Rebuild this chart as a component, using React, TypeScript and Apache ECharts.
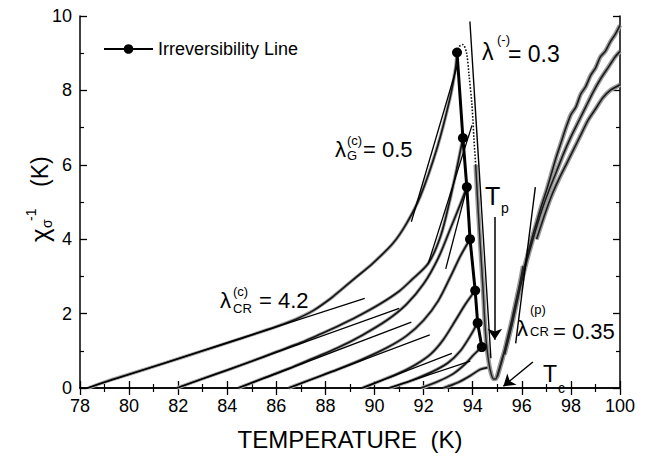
import React, { useEffect, useRef } from "react";
import * as echarts from "echarts";

const FONT = '"Liberation Sans", Arial, Helvetica, sans-serif';

// x ticks / y ticks
const xTicks = [78, 80, 82, 84, 86, 88, 90, 92, 94, 96, 98, 100];
const yTicks = [0, 2, 4, 6, 8, 10];

// ZFC-like branches (T [K], chi^-1 [K])
const curve1 = [[78.33,0],[79,0.16],[80,0.37],[81.5,0.68],[83,1.0],[84.5,1.32],[86,1.65],[86.8,1.85],[87.5,2.08],[88.2,2.4],[88.6,2.62],[89.2,2.95],[89.94,3.36],[90.75,3.89],[91.3,4.42],[91.85,5.13],[92.55,6.46],[93.07,7.78],[93.3,8.6],[93.36,9.02]];
const curve2 = [[81.95,0],[83,0.25],[84,0.48],[85,0.72],[86,0.97],[87,1.22],[87.8,1.45],[88.5,1.66],[89.3,1.92],[90.2,2.25],[91.0,2.6],[91.5,2.9],[92.2,3.36],[92.7,4.1],[93.07,5.05],[93.35,5.9],[93.6,6.72]];
const curve3 = [[84.45,0],[85.5,0.27],[86.5,0.52],[87.5,0.8],[88.5,1.08],[89.5,1.42],[90.5,1.82],[91.3,2.25],[92.0,2.8],[92.6,3.5],[93.1,4.3],[93.5,4.95],[93.76,5.4]];
const curve4 = [[86.5,0],[87.5,0.25],[88.5,0.5],[89.5,0.77],[90.5,1.08],[91.3,1.4],[92.0,1.82],[92.6,2.35],[93.1,3.0],[93.5,3.55],[93.89,4.0]];
const curve5 = [[89.5,0],[90.3,0.21],[91.0,0.4],[91.7,0.64],[92.3,0.92],[92.8,1.3],[93.3,1.82],[93.7,2.25],[94.1,2.62]];
const curve6 = [[90.6,0],[91.5,0.2],[92.3,0.42],[93.0,0.68],[93.5,1.0],[93.9,1.4],[94.2,1.75]];
const curve7 = [[91.9,0],[92.6,0.18],[93.2,0.38],[93.7,0.65],[94.05,0.9],[94.37,1.1]];
const curve8 = [[92.8,0],[93.4,0.15],[93.9,0.33],[94.3,0.5],[94.6,0.55]];

// common descending branch: dotted top part and thick lower part through the minimum
const descendingTop = [[93.36,9.02],[93.45,9.18],[93.6,9.23],[93.75,9.0],[93.85,8.4],[93.97,7.6],[94.05,6.7],[94.12,6.0]];
const descendingLow = [[94.12,6.0],[94.22,4.8],[94.33,3.6],[94.42,2.67],[94.48,1.9],[94.55,1.25],[94.65,0.7],[94.75,0.38],[94.85,0.24],[94.95,0.25],[95.05,0.45],[95.2,0.8],[95.4,1.2],[95.6,1.75],[95.8,2.4],[96.05,3.28]];

// paramagnetic region
const para1 = [[95.0,0.3],[95.2,0.75],[95.4,1.3],[95.6,1.85],[95.8,2.45],[96.0,3.0],[96.2,3.5],[96.4,4.0],[96.6,4.45],[96.8,4.9],[97.0,5.3],[97.2,5.75],[97.4,6.2],[97.6,6.6],[97.8,7.0],[98.0,7.35],[98.2,7.55],[98.4,7.9],[98.6,8.1],[98.8,8.4],[99.0,8.6],[99.2,8.9],[99.4,9.05],[99.6,9.3],[99.8,9.5],[100,9.75]];
const para2 = [[95.3,0.9],[95.6,1.7],[95.9,2.6],[96.2,3.4],[96.5,4.1],[96.8,4.75],[97.1,5.3],[97.4,5.8],[97.7,6.3],[98.0,6.75],[98.3,7.15],[98.6,7.55],[98.9,7.95],[99.2,8.3],[99.5,8.6],[99.8,8.9],[100,9.05]];
const para3 = [[96.6,4.0],[96.9,4.6],[97.2,5.15],[97.5,5.6],[97.8,6.0],[98.1,6.4],[98.4,6.8],[98.7,7.2],[99.0,7.5],[99.3,7.8],[99.6,8.0],[100,8.15]];

// straight fits
const fitCR1 = [[78.3,0],[89.6,2.41]];
const fitCR2 = [[81.95,0],[91.0,2.14]];
const fitCR3 = [[84.45,0],[91.5,1.77]];
const fitCR4 = [[86.5,0],[92.25,1.43]];
const fitCR5 = [[89.5,0],[93.15,0.93]];
const fitCR6 = [[90.6,0],[93.9,0.72]];
const fitG1 = [[91.5,4.47],[93.36,8.65]];
const fitG2 = [[92.18,3.33],[93.97,7.06]];
const fitG3 = [[92.9,3.2],[93.8,5.48]];
const fitMinus = [[93.885,9.85],[94.74,0.8]];
const fitCRp = [[95.75,1.2],[96.55,5.4]];

// irreversibility line
const irrT = [93.36, 93.6, 93.76, 93.89, 94.1, 94.2, 94.37];
const irrV = [9.02, 6.72, 5.4, 4.0, 2.62, 1.75, 1.1];

// arrows
const arrowTp = [[94.9, 4.6], [94.9, 1.3]];
const arrowTc = [[96.45, 0.7], [95.25, 0.05]];

function lineS(name: string, data: any, color: string, width: number, z: number, type: any = "solid", smooth: any = false) {
  return {
    type: "line", name, data, showSymbol: false, symbol: "none", silent: true, smooth,
    lineStyle: { color, width, type }, z, animation: false,
  };
}

let tid = 0;
function txt(x: number, y: number, s: string, size: number, align = "left") {
  tid += 1;
  return {
    type: "text", id: "t" + tid, x, y, z: 100, silent: true,
    style: { text: s, fontSize: size, fontFamily: FONT, fill: "#000", textAlign: align, textVerticalAlign: "middle" },
  };
}

export default function App() {
  const ref = useRef<HTMLDivElement>(null);
  useEffect(() => {
    tid = 0;
    const chart = echarts.init(ref.current!, null, { renderer: "svg" });
    const axisCommon = {
      type: "value",
      axisLine: { show: true, lineStyle: { color: "#000", width: 1.5 } },
      axisTick: { show: true, inside: true, length: 7, lineStyle: { color: "#000", width: 1.3 } },
      minorTick: { show: true, splitNumber: 2, length: 4, lineStyle: { color: "#000", width: 1.2 } },
      splitLine: { show: false },
      minorSplitLine: { show: false },
    };
    const curves = [curve1, curve2, curve3, curve4, curve5, curve6, curve7, curve8];
    const fits = [fitCR1, fitCR2, fitCR3, fitCR4, fitCR5, fitCR6, fitG1, fitG2, fitG3];
    const series: any[] = [];
    curves.forEach((c, i) => {
      series.push(lineS("curve" + (i + 1) + "-halo", c, "#a8a8a8", 3.5, 2, "solid", 0.3));
      series.push(lineS("curve" + (i + 1), c, "#151515", 1.7, 3, "solid", 0.3));
    });
    series.push(lineS("descending-top", descendingTop, "#111", 1.6, 4, "dotted", 0.3));
    series.push(lineS("descending-band", descendingLow, "#9a9a9a", 4.5, 2, "solid", 0.3));
    series.push(lineS("descending", descendingLow, "#222", 1.5, 4, "solid", 0.3));
    [para1, para2, para3].forEach((p, i) => {
      series.push(lineS("para" + (i + 1) + "-halo", p, "#9a9a9a", 4.5, 2, "solid", 0.2));
      series.push(lineS("para" + (i + 1), p, "#1a1a1a", 1.6, 3, "solid", 0.2));
    });
    fits.forEach((f, i) => series.push(lineS("fit" + (i + 1), f, "#000", 1.3, 5)));
    series.push(lineS("lambdaMinus", fitMinus, "#000", 1.4, 5));
    series.push(lineS("lambdaCRp", fitCRp, "#000", 1.4, 5));
    series.push({
      type: "line", name: "Irreversibility Line",
      data: irrT.map((t, i) => [t, irrV[i]]),
      symbol: "circle", symbolSize: 10, showSymbol: true, silent: true, animation: false,
      itemStyle: { color: "#000" }, lineStyle: { color: "#000", width: 3 }, z: 8,
    });
    series.push({
      type: "line", name: "arrows", data: [], silent: true, animation: false,
      markLine: {
        silent: true, animation: false, symbol: ["none", "arrow"], symbolSize: 11,
        label: { show: false },
        lineStyle: { color: "#000", width: 1.5, type: "solid" },
        data: [
          [{ coord: arrowTp[0] }, { coord: arrowTp[1] }],
          [{ coord: arrowTc[0] }, { coord: arrowTc[1] }],
        ],
      },
      z: 6,
    });

    chart.setOption({
      animation: false,
      backgroundColor: "#fff",
      textStyle: { fontFamily: FONT },
      grid: { left: 80, right: 35, top: 16, bottom: 62, containLabel: false },
      legend: {
        data: ["Irreversibility Line"], left: 103, top: 40, itemWidth: 49, itemHeight: 12,
        padding: 0, itemGap: 5, textStyle: { fontSize: 18, fontFamily: FONT, color: "#000" },
        selectedMode: false,
      },
      xAxis: [
        {
          ...axisCommon, position: "bottom", min: xTicks[0], max: xTicks[xTicks.length - 1], interval: 2,
          axisLabel: { show: true, fontSize: 18, color: "#000", fontFamily: FONT, margin: 9 },
          name: "TEMPERATURE  (K)", nameLocation: "middle", nameGap: 39,
          nameTextStyle: { fontSize: 24, color: "#000", fontFamily: FONT },
        },
        {
          ...axisCommon, position: "top", min: xTicks[0], max: xTicks[xTicks.length - 1], interval: 2,
          axisLabel: { show: false },
        },
      ],
      yAxis: [
        {
          ...axisCommon, position: "left", min: yTicks[0], max: yTicks[yTicks.length - 1], interval: 2,
          axisLabel: { show: true, fontSize: 18, color: "#000", fontFamily: FONT, margin: 8 },
        },
        {
          ...axisCommon, position: "right", min: yTicks[0], max: yTicks[yTicks.length - 1], interval: 2,
          axisLabel: { show: false },
        },
      ],
      series,
      graphic: [
        {
          type: "group", id: "ytitle", x: 40, y: 243, rotation: Math.PI / 2, silent: true,
          children: [
            txt(1, 0, "χ", 26),
            txt(15, 7, "σ", 14),
            txt(22, -9, "-1", 14),
            txt(56, 0, "(K)", 23),
          ],
        },
        txt(482, 52, "λ", 23), txt(497, 39, "(-)", 13), txt(508, 54, "= 0.3", 23),
        txt(335, 149, "λ", 22), txt(347, 140, "(c)", 13), txt(347, 155, "G", 13), txt(363, 149, "= 0.5", 22),
        txt(220, 300, "λ", 22), txt(233, 291, "(c)", 13), txt(233, 308, "CR", 13), txt(259, 300, "= 4.2", 22),
        txt(517, 328, "λ", 22), txt(530, 309, "(p)", 13), txt(530, 331, "CR", 13), txt(553, 331, "= 0.35", 22),
        txt(485, 196, "T", 25), txt(501, 208, "p", 14),
        txt(543, 374, "T", 23), txt(558, 388, "c", 14),
      ],
    });
    return () => chart.dispose();
  }, []);
  return (
    <div
      ref={ref}
      style={{ position: "absolute", left: 0, top: 0, width: 655, height: 456, background: "#fff" }}
    />
  );
}
